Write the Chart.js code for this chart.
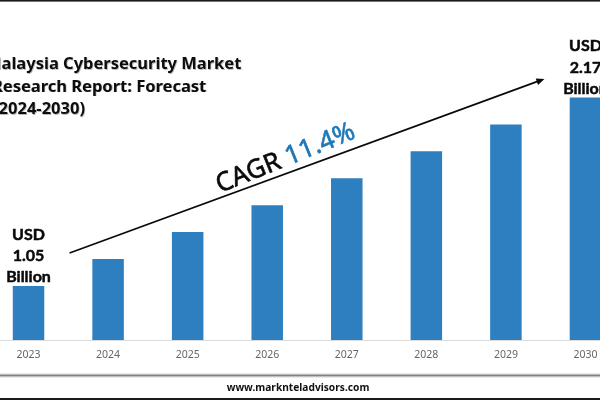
<!DOCTYPE html>
<html>
<head>
<meta charset="utf-8">
<style>
html,body{margin:0;padding:0;background:#fff;width:600px;height:400px;overflow:hidden}
#wrap{position:absolute;left:0;top:0;width:600px;height:400px;overflow:hidden}
canvas{position:absolute;left:-20px;top:0}
</style>
<script src="https://cdn.jsdelivr.net/npm/chart.js@4"></script>
</head>
<body>
<div id="wrap"><canvas id="c" width="660" height="400"></canvas></div>
<script>
const years = ['2023','2024','2025','2026','2027','2028','2029','2030'];
const marketSize = [1.05,1.21,1.37,1.53,1.69,1.85,2.01,2.17];
const titleLines = ['Malaysia Cybersecurity Market','Research Report: Forecast','(2024-2030)'];
const startLabel = ['USD','1.05','Billion'];
const endLabel = ['USD','2.17','Billion'];
const footer = 'www.marknteladvisors.com';

const OFFSET = 20; // canvas is shifted left so that the first and last category bleed off the page
const titleLeft = [-14,-8,-7];
const overlay = {
  id:'overlay',
  afterDraw(chart){
    const {ctx,scales:{x,y}} = chart;
    const px = v => v + OFFSET;
    ctx.save();
    // frame lines
    ctx.fillStyle='#1a1a1a';
    ctx.fillRect(0,0,660,1.6);
    ctx.fillRect(0,398,660,2);
    const g = ctx.createLinearGradient(0,373,0,378);
    g.addColorStop(0,'rgba(150,150,150,0)');g.addColorStop(.5,'rgba(130,130,130,1)');g.addColorStop(1,'rgba(225,225,225,0.3)');
    ctx.fillStyle=g;ctx.fillRect(0,373,660,5);
    // title
    ctx.textBaseline='alphabetic';ctx.textAlign='left';
    ctx.font='bold 16.5px "Noto Sans"';
    titleLines.forEach((t,i)=>{
      const yy=69+i*22.5;
      ctx.fillStyle='rgba(120,120,120,.5)';ctx.fillText(t,px(titleLeft[i])+.8,yy+.8);
      ctx.fillStyle='#0d0d0d';ctx.fillText(t,px(titleLeft[i]),yy);
    });
    // end labels
    ctx.fillStyle='#0a0a0a';ctx.strokeStyle='#0a0a0a';ctx.lineWidth=0.5;ctx.textAlign='center';
    ctx.font='bold 16px Lato';
    const labelAt=(lines,i)=>{
      const cx=x.getPixelForValue(i), top=y.getPixelForValue(marketSize[i]);
      lines.forEach((t,k)=>{
        const yy=top-3.5-(2-k)*21.3;
        ctx.fillText(t,cx,yy);ctx.strokeText(t,cx,yy);
      });
    };
    labelAt(startLabel,0);labelAt(endLabel,7);
    // arrow, placed in chart units
    const ax=x.getPixelForValue(0.516), ay=y.getPixelForValue(1.246);
    const bx=x.getPixelForValue(6.484), by=y.getPixelForValue(2.28);
    const ang=Math.atan2(by-ay,bx-ax);
    ctx.strokeStyle='#0a0a0a';ctx.lineWidth=1.7;
    ctx.beginPath();ctx.moveTo(ax,ay);ctx.lineTo(bx-5*Math.cos(ang),by-5*Math.sin(ang));ctx.stroke();
    ctx.fillStyle='#0a0a0a';ctx.save();ctx.translate(bx,by);ctx.rotate(ang);
    ctx.beginPath();ctx.moveTo(0,0);ctx.lineTo(-8,-3.4);ctx.lineTo(-8,3.4);ctx.closePath();ctx.fill();ctx.restore();
    // CAGR text
    ctx.save();
    ctx.translate(px(220),193);ctx.rotate(-22*Math.PI/180);
    ctx.textAlign='left';ctx.font='26px "Noto Sans"';ctx.lineWidth=0.6;
    ctx.fillStyle='#0a0a0a';ctx.strokeStyle='#0a0a0a';
    ctx.fillText('CAGR ',0,0);ctx.strokeText('CAGR ',0,0);
    const w=ctx.measureText('CAGR ').width;
    ctx.fillStyle='#1f78b8';ctx.strokeStyle='#1f78b8';
    ctx.fillText('11.4%',w,0);ctx.strokeText('11.4%',w,0);
    ctx.restore();
    // footer
    ctx.fillStyle='#111';ctx.textAlign='center';ctx.font='bold 10.2px "Noto Sans"';
    ctx.fillText(footer,px(298),391);
    ctx.restore();
  }
};

new Chart(document.getElementById('c'),{
  type:'bar',
  data:{labels:years,datasets:[{data:marketSize,backgroundColor:'#2e7fbf',borderWidth:0,barPercentage:0.396,categoryPercentage:1}]},
  options:{
    responsive:false,animation:false,
    layout:{padding:{left:8.75,right:14.75,top:0,bottom:0}},
    plugins:{legend:{display:false},title:{display:false},tooltip:{enabled:false}},
    scales:{
      x:{
        grid:{display:false},
        border:{color:'#dcdcdc',width:1},
        ticks:{color:'#666666',font:{family:'Noto Sans',size:10.5},padding:1,maxRotation:0},
        afterFit(s){s.height=60;}
      },
      y:{display:false,min:0.729,max:2.749}
    }
  },
  plugins:[overlay]
});
</script>
</body>
</html>
